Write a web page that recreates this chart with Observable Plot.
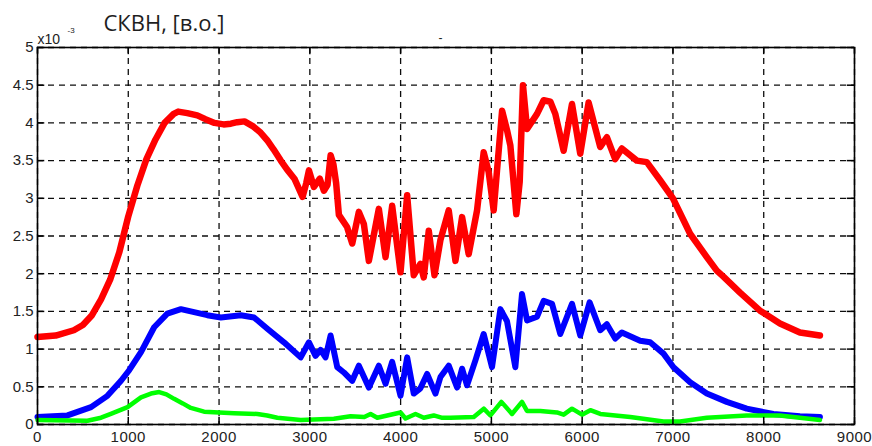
<!DOCTYPE html>
<html>
<head>
<meta charset="utf-8">
<script src="https://cdn.jsdelivr.net/npm/d3@7"></script>
<script src="https://cdn.jsdelivr.net/npm/@observablehq/plot@0.6"></script>
<style>
  html, body { margin: 0; padding: 0; background: #fff; }
  #chart svg g[aria-label="x-axis tick label"] text { letter-spacing: 0.5px; }
</style>
</head>
<body>
<div id="chart"></div>
<script>
const titleText = "СКВН, [в.о.]";
const scaleText = "x10";
const scaleExp = "-3";

const xTicks = [0, 1000, 2000, 3000, 4000, 5000, 6000, 7000, 8000, 9000];
const yTicks = [0, 0.5, 1, 1.5, 2, 2.5, 3, 3.5, 4, 4.5, 5];

const redX = [0, 200, 400, 500, 600, 700, 800, 900, 1000, 1100, 1200, 1300, 1400, 1500, 1550, 1650, 1760, 1850, 1950, 2050, 2130, 2200, 2280, 2380, 2450, 2530, 2600, 2680, 2750, 2830, 2920, 2960, 2990, 3045, 3110, 3155, 3195, 3229, 3260, 3290, 3320, 3410, 3467, 3540, 3595, 3650, 3760, 3834, 3907, 3999, 4072, 4145, 4218, 4255, 4310, 4373, 4439, 4530, 4604, 4677, 4750, 4842, 4915, 4970, 5025, 5062, 5118, 5173, 5209, 5275, 5312, 5348, 5393, 5503, 5576, 5650, 5704, 5796, 5888, 5979, 6071, 6199, 6272, 6364, 6437, 6602, 6712, 6859, 7000, 7189, 7373, 7483, 7556, 7739, 7959, 8179, 8399, 8619];
const redY = [1.16, 1.18, 1.25, 1.32, 1.45, 1.66, 1.92, 2.28, 2.76, 3.17, 3.52, 3.78, 4.00, 4.12, 4.15, 4.13, 4.10, 4.05, 4.00, 3.98, 3.99, 4.01, 4.02, 3.95, 3.88, 3.77, 3.65, 3.50, 3.38, 3.26, 3.02, 3.20, 3.37, 3.15, 3.26, 3.10, 3.18, 3.57, 3.45, 3.20, 2.78, 2.62, 2.40, 2.82, 2.66, 2.17, 2.86, 2.22, 2.90, 2.02, 3.04, 1.98, 2.13, 1.95, 2.57, 1.98, 2.45, 2.84, 2.17, 2.75, 2.26, 2.84, 3.61, 3.35, 2.84, 3.37, 4.16, 3.90, 3.70, 2.79, 3.22, 4.50, 3.92, 4.12, 4.30, 4.28, 4.12, 3.63, 4.25, 3.59, 4.27, 3.68, 3.81, 3.52, 3.66, 3.50, 3.48, 3.24, 3.00, 2.53, 2.22, 2.04, 1.96, 1.75, 1.51, 1.34, 1.22, 1.18];

const blueX = [0, 330, 590, 770, 920, 1010, 1140, 1285, 1430, 1580, 1725, 1870, 2020, 2240, 2385, 2532, 2715, 2899, 2990, 3063, 3118, 3173, 3229, 3302, 3375, 3467, 3540, 3650, 3760, 3834, 3907, 3999, 4072, 4145, 4218, 4292, 4384, 4439, 4530, 4622, 4677, 4732, 4824, 4915, 5007, 5099, 5172, 5264, 5337, 5393, 5503, 5576, 5668, 5759, 5888, 5979, 6082, 6199, 6272, 6364, 6437, 6639, 6749, 6896, 7006, 7189, 7373, 7593, 7813, 8106, 8399, 8619];
const blueY = [0.10, 0.12, 0.23, 0.38, 0.58, 0.72, 0.96, 1.29, 1.47, 1.53, 1.49, 1.45, 1.42, 1.45, 1.42, 1.27, 1.09, 0.89, 1.09, 0.91, 0.99, 0.89, 1.18, 0.76, 0.69, 0.58, 0.78, 0.49, 0.78, 0.54, 0.83, 0.38, 0.89, 0.41, 0.48, 0.67, 0.41, 0.63, 0.78, 0.49, 0.74, 0.52, 0.85, 1.20, 0.76, 1.53, 1.37, 0.76, 1.73, 1.38, 1.43, 1.64, 1.60, 1.20, 1.60, 1.18, 1.62, 1.25, 1.33, 1.14, 1.22, 1.11, 1.09, 0.94, 0.76, 0.56, 0.41, 0.30, 0.21, 0.14, 0.11, 0.10];

const greenX = [0, 550, 700, 808, 992, 1140, 1250, 1340, 1420, 1505, 1600, 1689, 1835, 2000, 2165, 2422, 2530, 2642, 2899, 3265, 3449, 3600, 3669, 3743, 3853, 3999, 4054, 4164, 4255, 4365, 4450, 4549, 4806, 4916, 4989, 5110, 5227, 5337, 5392, 5539, 5722, 5796, 5888, 5998, 6090, 6200, 6530, 6896, 7079, 7373, 7813, 8179, 8619];
const greenY = [0.06, 0.05, 0.09, 0.14, 0.23, 0.36, 0.41, 0.43, 0.40, 0.34, 0.28, 0.22, 0.17, 0.16, 0.15, 0.14, 0.12, 0.09, 0.06, 0.075, 0.11, 0.10, 0.14, 0.09, 0.12, 0.16, 0.08, 0.14, 0.09, 0.12, 0.09, 0.09, 0.10, 0.21, 0.12, 0.30, 0.14, 0.30, 0.18, 0.18, 0.16, 0.13, 0.21, 0.13, 0.19, 0.14, 0.10, 0.04, 0.04, 0.09, 0.12, 0.12, 0.06];

const toRows = (xs, ys) => xs.map((x, i) => ({x, y: ys[i]}));
const red = toRows(redX, redY);
const blue = toRows(blueX, blueY);
const green = toRows(greenX, greenY);

const tickLenX = 80;    // in x data units (~7px)
const tickLenY = 0.095; // in y data units (~7px)

const chart = Plot.plot({
  width: 872,
  height: 446,
  marginLeft: 37,
  marginRight: 18,
  marginTop: 47,
  marginBottom: 22,
  style: {fontFamily: "'Liberation Sans', Arial, sans-serif", fontSize: "15px", color: "#222", background: "#fff", overflow: "visible"},
  x: {domain: [0, 9000]},
  y: {domain: [0, 5]},
  marks: [
    Plot.gridX(xTicks, {stroke: "#000", strokeOpacity: 0.95, strokeWidth: 1.3, strokeDasharray: "6,5"}),
    Plot.gridY(yTicks, {stroke: "#000", strokeOpacity: 0.95, strokeWidth: 1.3, strokeDasharray: "6,5"}),
    Plot.line(red, {x: "x", y: "y", stroke: "#ff0000", strokeWidth: 6.5, strokeLinejoin: "round"}),
    Plot.line(blue, {x: "x", y: "y", stroke: "#0000ff", strokeWidth: 6, strokeLinejoin: "round"}),
    Plot.line(green, {x: "x", y: "y", stroke: "#00ff00", strokeWidth: 4.5, strokeLinejoin: "round"}),
    Plot.ruleX(xTicks, {x: d => d, y1: 0, y2: tickLenY, stroke: "#000", strokeWidth: 1.5}),
    Plot.ruleX(xTicks, {x: d => d, y1: 5, y2: 5 - tickLenY, stroke: "#000", strokeWidth: 1.5}),
    Plot.ruleY(yTicks, {y: d => d, x1: 0, x2: tickLenX, stroke: "#000", strokeWidth: 1.5}),
    Plot.ruleY(yTicks, {y: d => d, x1: 9000, x2: 9000 - tickLenX, stroke: "#000", strokeWidth: 1.5}),
    Plot.frame({stroke: "#000", strokeWidth: 1.6}),
    Plot.axisX(xTicks, {tickSize: 0, tickPadding: 7, tickFormat: d => String(d), label: null, fontSize: 15, fill: "#222"}),
    Plot.axisY(yTicks, {tickSize: 0, tickPadding: 4, tickFormat: d => String(d), label: null, fontSize: 15, fill: "#222"}),
    Plot.text([titleText], {text: d => d, frameAnchor: "top-left", textAnchor: "start", lineAnchor: "middle", dx: 66, dy: -24, fontSize: 22, fontFamily: "'Open Sans', sans-serif", fill: "#1e1e1e"}),
    Plot.text([scaleText], {text: d => d, frameAnchor: "top-left", textAnchor: "start", lineAnchor: "middle", dx: 0, dy: -8, fontSize: 14, fill: "#222"}),
    Plot.text([scaleExp], {text: d => d, frameAnchor: "top-left", textAnchor: "start", lineAnchor: "middle", dx: 30, dy: -17, fontSize: 8, fill: "#222"}),
    Plot.text(["-"], {text: d => d, frameAnchor: "top-left", textAnchor: "middle", lineAnchor: "middle", dx: 403, dy: -9, fontSize: 12, fill: "#222"})
  ]
});
document.getElementById("chart").appendChild(chart);
</script>
</body>
</html>
